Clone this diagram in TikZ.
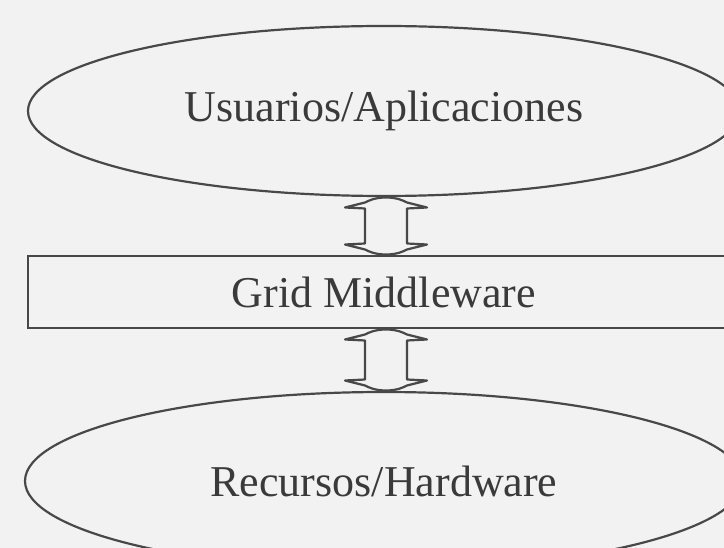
\documentclass[tikz,border=0pt]{standalone}
\usepackage{fontspec}
\setmainfont{Liberation Serif}
\usetikzlibrary{shapes.geometric,calc}
\definecolor{bg}{RGB}{242,242,242}
\definecolor{ln}{RGB}{72,72,72}
\definecolor{tx}{RGB}{58,58,58}
\tikzset{
  layer/.style={draw=ln, line width=2.2pt, text=tx, inner sep=0pt,
    font=\fontsize{44}{52}\selectfont},
  oval/.style={layer, ellipse},
  band/.style={layer, rectangle},
  dbl/.pic={
    \draw[draw=ln, line width=2.2pt, line join=round]
      (0,-#1) .. controls (-11,-#1) and (-17,-#1+3) .. (-21,-#1+5)
      -- (-41,-#1+10) -- (-21,-#1+11) -- (-21,#1-11) -- (-41,#1-10)
      -- (-21,#1-5) .. controls (-17,#1-3) and (-11,#1) .. (0,#1)
      .. controls (11,#1) and (17,#1-3) .. (21,#1-5)
      -- (41,#1-10) -- (21,#1-11) -- (21,-#1+11) -- (41,-#1+10)
      -- (21,-#1+5) .. controls (17,-#1+3) and (11,-#1) .. (0,-#1) -- cycle;
  }
}
\begin{document}
\begin{tikzpicture}[x=1pt,y=-1pt]
\fill[bg] (0,0) rectangle (724,548);
\useasboundingbox (0,0) rectangle (724,548);
\clip (0,0) rectangle (724,548);
\node[oval, minimum width=712pt, minimum height=170pt] (u) at (384,111) {Usuarios/Aplicaciones};
\node[band, minimum width=712pt, minimum height=72pt] (g) at (384,292) {Grid Middleware};
\node[oval, minimum width=718pt, minimum height=178pt] (r) at (384,481) {Recursos/Hardware};
\pic at ($(u.south)!0.5!(g.north)+(2,0)$) {dbl=28.5};
\pic at ($(g.south)!0.5!(r.north)+(2,0)$) {dbl=30.5};
\end{tikzpicture}
\end{document}
